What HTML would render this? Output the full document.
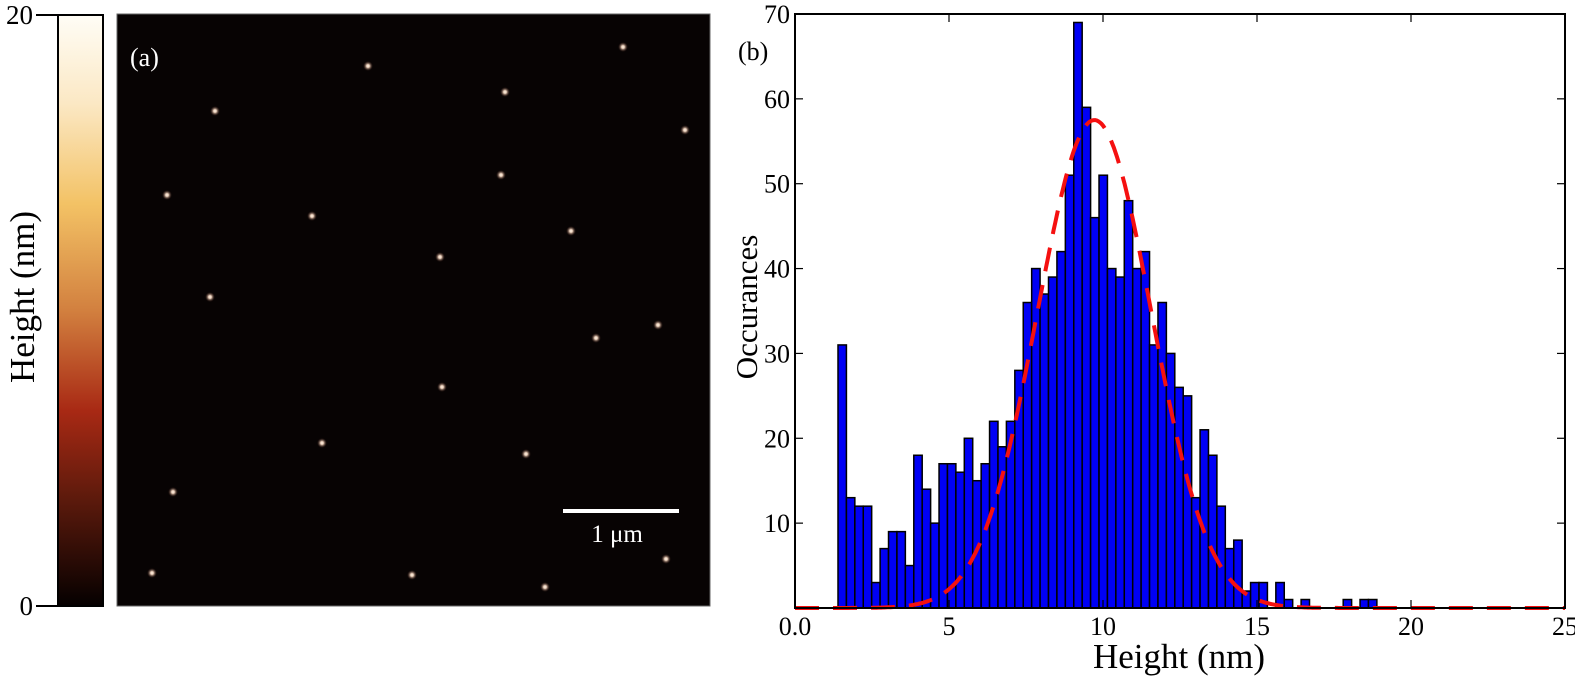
<!DOCTYPE html>
<html><head><meta charset="utf-8">
<style>
html,body{margin:0;padding:0;background:#fff;}
svg{display:block;font-family:"Liberation Serif",serif;}
</style></head>
<body>
<svg id="s" width="1575" height="676" viewBox="0 0 1575 676" xmlns="http://www.w3.org/2000/svg">
<defs>
<linearGradient id="cb" x1="0" y1="0" x2="0" y2="1">
<stop offset="0" stop-color="#fffdf6"/>
<stop offset="0.15" stop-color="#fbe8c4"/>
<stop offset="0.32" stop-color="#f3c265"/>
<stop offset="0.5" stop-color="#d2803f"/>
<stop offset="0.67" stop-color="#a82914"/>
<stop offset="0.82" stop-color="#5c1a0c"/>
<stop offset="1" stop-color="#050000"/>
</linearGradient>
<radialGradient id="dot">
<stop offset="0" stop-color="#fff6ea"/>
<stop offset="0.3" stop-color="#e8cdb8"/>
<stop offset="1" stop-color="#3a1810" stop-opacity="0"/>
</radialGradient>
</defs>
<!-- colorbar -->
<rect x="58" y="15" width="45" height="591" fill="url(#cb)" stroke="#000" stroke-width="2"/>
<line x1="36" y1="15" x2="58" y2="15" stroke="#000" stroke-width="2"/>
<line x1="36" y1="606" x2="58" y2="606" stroke="#000" stroke-width="2"/>
<text x="33" y="24" font-size="27" text-anchor="end">20</text>
<text x="33" y="615" font-size="27" text-anchor="end">0</text>
<text transform="translate(34,297) rotate(-90)" font-size="35" text-anchor="middle">Height (nm)</text>
<!-- AFM image -->
<rect x="117" y="14" width="593" height="592" fill="#070303" stroke="#666" stroke-width="1"/>
<g id="dots"></g>
<text x="130" y="66" font-size="26" fill="#fff">(a)</text>
<rect x="563" y="509" width="116" height="4" fill="#fff"/>
<text x="617" y="542" font-size="25" fill="#fff" text-anchor="middle">1 μm</text>
<!-- histogram -->
<text x="738" y="60" font-size="26">(b)</text>
<g id="bars" fill="#0000f5" stroke="#000" stroke-width="1.5"></g>
<path id="gauss" fill="none" stroke="#f51010" stroke-width="4" stroke-dasharray="24,14"/>
<rect x="795" y="14" width="770" height="594" fill="none" stroke="#000" stroke-width="2"/>
<g id="ticks" stroke="#000" stroke-width="1.2"></g>
<g id="labels" font-size="26"></g>
<text transform="translate(757,307) rotate(-90)" font-size="31" text-anchor="middle">Occurances</text>
<text x="1179" y="668" font-size="35" text-anchor="middle">Height (nm)</text>
</svg>
<script>
const NS="http://www.w3.org/2000/svg";
function el(t,a,p){const e=document.createElementNS(NS,t);for(const k in a)e.setAttribute(k,a[k]);if(p)p.appendChild(e);return e;}
const X0=795,UX=30.8,Y0=608,UY=8.486;
const h=[31,13,12,12,3,7,9,9,5,18,14,10,17,17,16,20,15,17,22,19,22,28,36,40,37,39,42,51,69,59,46,51,40,39,48,40,42,31,36,30,26,25,13,21,18,12,7,8,2,3,3,0,3,1,0,1,0,0,0,0,1,0,1,1];
const bars=document.getElementById('bars');
const w=8.42;
h.forEach((v,i)=>{if(v>0)el('rect',{x:(838+i*w).toFixed(2),y:(Y0-v*UY).toFixed(2),width:w.toFixed(2),height:(v*UY).toFixed(2)},bars);});
let d="";for(let x=0;x<=25.001;x+=0.05){const y=57.5*Math.exp(-Math.pow(x-9.72,2)/(2*1.85*1.85));d+=(x==0?"M":"L")+(X0+x*UX).toFixed(1)+","+(Y0-y*UY).toFixed(1);}
document.getElementById('gauss').setAttribute('d',d);
const tk=document.getElementById('ticks'),lb=document.getElementById('labels');
for(let v=0;v<=25;v+=5){const x=X0+v*UX;
 el('line',{x1:x,y1:Y0,x2:x,y2:Y0-8},tk);el('line',{x1:x,y1:14,x2:x,y2:22},tk);
 const t=el('text',{x:x,y:635,'text-anchor':'middle'},lb);t.textContent=v==0?"0.0":v;}
for(let v=10;v<=70;v+=10){const y=Y0-v*UY;
 el('line',{x1:X0,y1:y,x2:X0+8,y2:y},tk);el('line',{x1:1565,y1:y,x2:1557,y2:y},tk);
 const t=el('text',{x:790,y:y+9,'text-anchor':'end'},lb);t.textContent=v;}
const dots=[[623,47],[368,66],[505,92],[215,111],[685,130],[167,195],[501,175],[312,216],[571,231],[440,257],[210,297],[658,325],[596,338],[442,387],[322,443],[526,454],[173,492],[152,573],[412,575],[545,587],[666,559]];
const dg=document.getElementById('dots');
dots.forEach(p=>el('circle',{cx:p[0],cy:p[1],r:5,fill:'url(#dot)'},dg));
</script>
</body></html>
